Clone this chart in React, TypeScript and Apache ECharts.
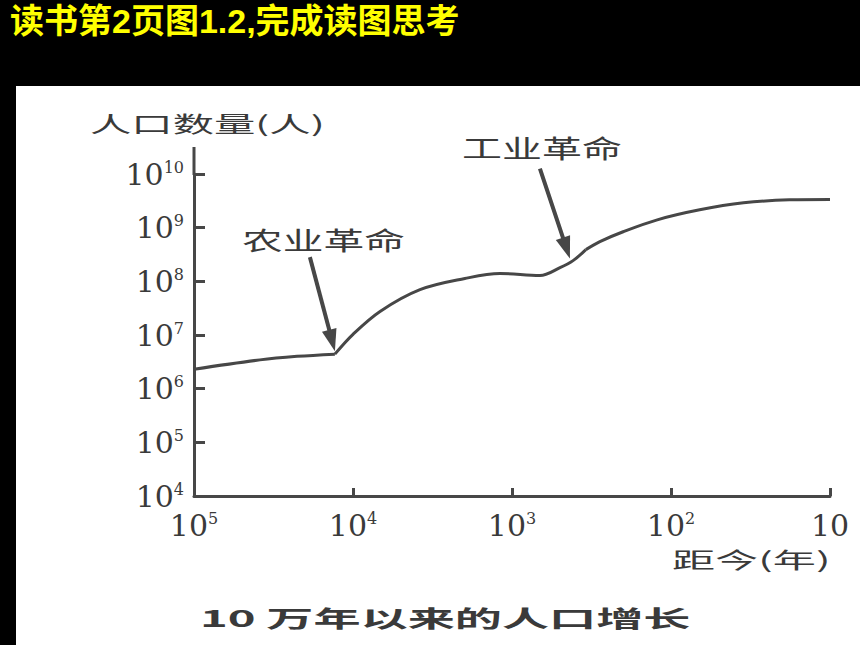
import React, { useEffect, useRef } from "react";
import * as echarts from "echarts";

// ---- texts ----
const titleText = "读书第2页图1.2,完成读图思考";
const yAxisName = "人口数量(人)";
const xAxisName = "距今(年)";
const captionText = "10 万年以来的人口增长";
const agriLabel = "农业革命";
const induLabel = "工业革命";

// ---- data: years before present (log) vs population (log) ----
const preAgriYears = [100000, 38500, 22500, 13000];
const preAgriPop = [2.3e6, 3.44e6, 4.0e6, 4.4e6];
const agriYears = [13000, 10000, 6760, 3790, 1980, 1190, 667, 499, 413, 343];
const agriPop = [4.4e6, 1.03e7, 2.75e7, 7.0e7, 1.13e8, 1.4e8, 1.28e8, 1.8e8, 2.43e8, 3.9e8];
const induYears = [343, 280, 200, 122, 66, 35, 18, 10];
const induPop = [3.9e8, 5.5e8, 8.4e8, 1.4e9, 2.15e9, 2.9e9, 3.3e9, 3.35e9];

const xMin = 10;
const xMax = 1e5;
const yMin = 1e4;
const yMax = 1e10;

// annotation anchors (data space)
const agriPoint = [13000, 4.4e6];
const induPoint = [445, 2.14e8];

const INK = "#474747";
const TEXT = "#3a3a3a";

const pairs = (xs: number[], ys: number[]) => xs.map((x, i) => [x, ys[i]]);

const supLabel = (v: number) => {
  const e = Math.round(Math.log10(v));
  return e === 1 ? "{b|10}" : `{b|10}{e|${e}}`;
};

const richStyle = {
  b: { fontSize: 30, fontFamily: "DejaVu Serif", color: TEXT, lineHeight: 30 },
  e: { fontSize: 16, fontFamily: "DejaVu Serif", color: TEXT, lineHeight: 16, verticalAlign: "top" },
};

function arrow(tip: number[], tail: number[]) {
  const dx = tip[0] - tail[0];
  const dy = tip[1] - tail[1];
  const len = Math.sqrt(dx * dx + dy * dy);
  const ux = dx / len;
  const uy = dy / len;
  const headLen = 22;
  const headHalf = 7.5;
  const bx = tip[0] - ux * headLen;
  const by = tip[1] - uy * headLen;
  const nx = -uy;
  const ny = ux;
  return [
    {
      type: "line",
      shape: { x1: tail[0], y1: tail[1], x2: bx + ux * 2, y2: by + uy * 2 },
      style: { stroke: INK, lineWidth: 4 },
      silent: true,
    },
    {
      type: "polygon",
      shape: {
        points: [
          [tip[0], tip[1]],
          [bx + nx * headHalf, by + ny * headHalf],
          [bx - nx * headHalf, by - ny * headHalf],
        ],
      },
      style: { fill: INK },
      silent: true,
    },
  ];
}

function stretchedText(text: string, x: number, y: number, fontSize: number, scaleX: number, fontWeight = "normal") {
  return {
    type: "text",
    x,
    y,
    scaleX,
    silent: true,
    style: {
      text,
      fontSize,
      fontWeight,
      fontFamily: "Noto Sans CJK SC",
      fill: TEXT,
      align: "left",
      verticalAlign: "middle",
    },
  };
}

export default function App() {
  const ref = useRef<HTMLDivElement>(null);

  useEffect(() => {
    document.body.style.margin = "0";
    if (!ref.current) return;
    const chart = echarts.init(ref.current, undefined, { renderer: "svg" });

    const lineSeries = (data: number[][]) => ({
      type: "line",
      data,
      smooth: 0.35,
      showSymbol: false,
      symbol: "none",
      lineStyle: { color: INK, width: 3 },
      silent: true,
    });

    chart.setOption({
      animation: false,
      backgroundColor: "transparent",
      grid: { left: 194, right: 30, top: 174, bottom: 149, containLabel: false, outerBoundsMode: "none" },
      xAxis: {
        type: "log",
        logBase: 10,
        min: xMin,
        max: xMax,
        inverse: true,
        splitNumber: 4,
        axisLine: { show: true, lineStyle: { color: INK, width: 3 } },
        axisTick: { show: true, inside: true, length: 8, lineStyle: { color: INK, width: 3 } },
        axisLabel: { margin: 14, formatter: supLabel, rich: richStyle },
        splitLine: { show: false },
      },
      yAxis: {
        type: "log",
        logBase: 10,
        min: yMin,
        max: yMax,
        splitNumber: 6,
        axisLine: { show: true, lineStyle: { color: INK, width: 3 } },
        axisTick: { show: true, inside: true, length: 11, lineStyle: { color: INK, width: 3 } },
        axisLabel: { margin: 10, formatter: supLabel, rich: richStyle },
        splitLine: { show: false },
      },
      series: [
        lineSeries(pairs(preAgriYears, preAgriPop)),
        lineSeries(pairs(agriYears, agriPop)),
        lineSeries(pairs(induYears, induPop)),
      ],
    });

    const px = (p: number[]) => chart.convertToPixel({ gridIndex: 0 }, p) as number[];
    const agriPx = px(agriPoint);
    const induPx = px(induPoint);
    const topPx = px([xMax, yMax]);

    const agriTip = [agriPx[0], agriPx[1] - 3];
    const induTip = [induPx[0] + 2, induPx[1] - 5];

    chart.setOption({
      graphic: [
        {
          type: "text",
          x: 10,
          y: 21,
          silent: true,
          style: {
            text: titleText,
            fontSize: 34,
            fontWeight: "bold",
            fontFamily: "Liberation Sans, Noto Sans CJK SC",
            fill: "#ffff00",
            align: "left",
            verticalAlign: "middle",
          },
        },
        {
          type: "line",
          shape: { x1: topPx[0], y1: topPx[1] - 27, x2: topPx[0], y2: topPx[1] + 1 },
          style: { stroke: INK, lineWidth: 3 },
          silent: true,
        },
        stretchedText(yAxisName, 90, 123, 22, 1.88),
        stretchedText(xAxisName, 672, 558, 22, 1.96),
        stretchedText(agriLabel, 242, 239, 25, 1.63),
        stretchedText(induLabel, 462, 147, 25, 1.6),
        stretchedText(captionText, 200, 617, 23, 2.05, "bold"),
        ...arrow(agriTip, [agriTip[0] - 25, agriTip[1] - 94]),
        ...arrow(induTip, [induTip[0] - 30, induTip[1] - 90]),
      ],
    });

    return () => chart.dispose();
  }, []);

  return (
    <div style={{ position: "relative", width: 860, height: 645, background: "#000", overflow: "hidden" }}>
      <div style={{ position: "absolute", left: 16, top: 86, width: 844, height: 559, background: "#fff" }} />
      <div ref={ref} style={{ position: "absolute", left: 0, top: 0, width: 860, height: 645 }} />
    </div>
  );
}
